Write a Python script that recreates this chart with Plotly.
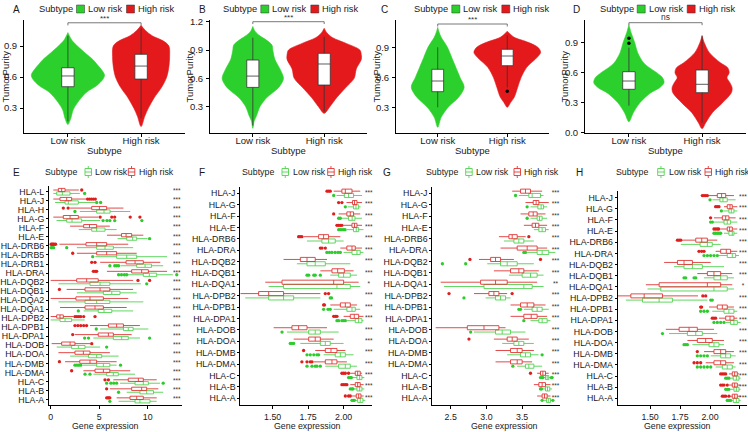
import plotly.graph_objects as go

W, H = 748, 432
FONT = "Liberation Sans, Arial, sans-serif"
GREEN_FILL = "#2CD02C"
RED_FILL = "#E3191C"
RED_LINE = "#E03535"
GREEN_LINE = "#50D250"
RED_PT = "#E01E1E"
GREEN_PT = "#2DCC2D"

# ---------------- top row (violins) ----------------
groups = ["Low risk", "High risk"]
violin_panels = ["A", "B", "C", "D"]
sig_top = ["***", "***", "***", "ns"]

# density profiles (value levels and half widths in category units)
A_low_y = [0.14, 0.2, 0.28, 0.35, 0.45, 0.52, 0.58, 0.62, 0.67, 0.72, 0.77, 0.83, 0.9, 0.95, 1.0, 1.03]
A_low_w = [0.0, 0.04, 0.07, 0.13, 0.25, 0.4, 0.48, 0.5, 0.46, 0.4, 0.34, 0.24, 0.13, 0.06, 0.02, 0.0]
A_high_y = [0.12, 0.22, 0.3, 0.4, 0.5, 0.6, 0.7, 0.8, 0.9, 0.95, 1.0, 1.05, 1.1]
A_high_w = [0.0, 0.05, 0.1, 0.18, 0.28, 0.35, 0.38, 0.39, 0.38, 0.3, 0.15, 0.06, 0.0]
B_low_y = [0.07, 0.15, 0.2, 0.3, 0.4, 0.46, 0.52, 0.6, 0.7, 0.8, 0.9, 0.95, 1.0, 1.05, 1.1, 1.15]
B_low_w = [0.0, 0.02, 0.05, 0.1, 0.2, 0.3, 0.38, 0.43, 0.38, 0.31, 0.28, 0.27, 0.2, 0.1, 0.03, 0.0]
B_high_y = [0.23, 0.3, 0.4, 0.5, 0.6, 0.7, 0.8, 0.85, 0.9, 0.97, 1.03, 1.08, 1.13]
B_high_w = [0.0, 0.08, 0.18, 0.3, 0.42, 0.45, 0.52, 0.52, 0.5, 0.31, 0.12, 0.04, 0.0]
C_low_y = [0.1, 0.2, 0.3, 0.4, 0.5, 0.6, 0.7, 0.8, 0.9, 1.0, 1.06, 1.1]
C_low_w = [0.0, 0.05, 0.15, 0.3, 0.38, 0.32, 0.26, 0.2, 0.14, 0.05, 0.015, 0.0]
C_high_y = [0.3, 0.35, 0.4, 0.5, 0.6, 0.7, 0.8, 0.85, 0.9, 0.95, 1.0, 1.06]
C_high_w = [0.0, 0.05, 0.1, 0.15, 0.2, 0.28, 0.43, 0.48, 0.44, 0.3, 0.1, 0.0]
D_low_y = [0.11, 0.2, 0.3, 0.4, 0.45, 0.5, 0.55, 0.6, 0.65, 0.7, 0.8, 0.9, 1.0, 1.08]
D_low_w = [0.0, 0.06, 0.15, 0.3, 0.42, 0.48, 0.46, 0.38, 0.28, 0.2, 0.12, 0.08, 0.03, 0.0]
D_high_y = [0.04, 0.1, 0.2, 0.3, 0.4, 0.45, 0.5, 0.55, 0.6, 0.65, 0.7, 0.8, 0.9, 0.97]
D_high_w = [0.0, 0.05, 0.14, 0.28, 0.4, 0.41, 0.38, 0.34, 0.37, 0.35, 0.25, 0.1, 0.03, 0.0]

# box stats [lower whisker, q1, median, q3, upper whisker]
A_low_box = [0.17, 0.506, 0.61, 0.69, 1.0]
A_high_box = [0.2, 0.58, 0.706, 0.82, 1.07]
B_low_box = [0.1, 0.504, 0.624, 0.794, 1.03]
B_high_box = [0.25, 0.529, 0.752, 0.865, 1.04]
C_low_box = [0.3, 0.456, 0.563, 0.68, 0.9]
C_high_box = [0.5, 0.716, 0.813, 0.88, 1.02]
D_low_box = [0.27, 0.434, 0.517, 0.61, 0.85]
D_high_box = [0.1, 0.4, 0.484, 0.627, 0.97]
A_low_out, A_high_out = [], []
B_low_out, B_high_out = [], []
C_low_out, C_high_out = [], [0.46]
D_low_out, D_high_out = [0.894, 0.944], []

# ---------------- bottom row (HLA boxplots) ----------------
E_genes = ["HLA-L", "HLA-J", "HLA-H", "HLA-G", "HLA-F", "HLA-E", "HLA-DRB6", "HLA-DRB5", "HLA-DRB1",
           "HLA-DRA", "HLA-DQB2", "HLA-DQB1", "HLA-DQA2", "HLA-DQA1", "HLA-DPB2", "HLA-DPB1", "HLA-DPA1",
           "HLA-DOB", "HLA-DOA", "HLA-DMB", "HLA-DMA", "HLA-C", "HLA-B", "HLA-A"]
E_high = [[0.27, 0.79, 1.13, 1.48, 2.9], [0.27, 0.96, 1.65, 2.16, 3.7], [2.0, 4.23, 5.02, 5.77, 7.5],
          [0.27, 1.3, 2.0, 2.85, 4.9], [2.0, 3.4, 4.0, 4.74, 6.1], [5.8, 7.3, 7.77, 8.35, 9.55],
          [0.9, 3.64, 4.74, 5.77, 8.0], [2.7, 4.74, 5.77, 6.8, 8.87], [5.1, 7.77, 8.7, 9.55, 11.3],
          [5.8, 8.35, 9.38, 10.07, 12.0], [0.0, 2.68, 3.71, 4.9, 8.5], [1.65, 3.54, 5.09, 6.1, 8.5],
          [0.0, 2.6, 4.05, 5.43, 8.0], [0.96, 3.54, 4.57, 5.43, 7.84], [0.0, 0.62, 0.96, 1.3, 2.3],
          [4.05, 5.95, 6.8, 7.5, 9.2], [2.5, 4.9, 5.95, 6.46, 8.35], [0.1, 1.13, 2.0, 2.5, 4.05],
          [0.8, 2.5, 3.37, 4.05, 6.1], [1.48, 3.0, 4.05, 4.74, 6.8], [3.37, 4.57, 5.43, 6.1, 8.2],
          [6.46, 8.0, 9.04, 9.55, 10.93], [6.1, 8.35, 9.38, 9.9, 11.1], [6.8, 8.18, 8.87, 9.55, 10.93]]
E_low = [[0.27, 0.62, 1.2, 1.99, 3.0], [0.45, 1.48, 1.82, 2.85, 4.57], [3.0, 4.74, 5.5, 6.12, 8.2],
         [0.6, 1.65, 2.2, 3.2, 5.1], [2.9, 4.23, 4.74, 5.6, 6.8], [6.9, 7.84, 8.45, 8.87, 10.0],
         [2.7, 4.74, 5.6, 6.46, 8.5], [4.6, 6.8, 7.84, 8.87, 12.0], [7.2, 8.87, 9.73, 10.4, 11.6],
         [7.9, 9.55, 10.17, 10.93, 12.6], [0.8, 4.05, 5.09, 6.1, 9.3], [2.7, 5.43, 6.3, 7.15, 8.87],
         [0.8, 3.54, 4.74, 6.1, 9.55], [3.4, 4.9, 5.5, 6.3, 8.5], [0.0, 0.96, 1.48, 2.16, 3.5],
         [5.1, 7.5, 8.0, 8.5, 10.07], [4.4, 6.46, 7.32, 8.0, 9.2], [0.62, 2.16, 2.85, 3.54, 5.1],
         [2.0, 3.9, 4.74, 5.26, 7.0], [3.3, 4.74, 5.43, 6.1, 6.8], [4.4, 5.77, 6.46, 6.97, 8.7],
         [7.15, 8.7, 9.55, 10.07, 11.27], [7.84, 9.2, 9.9, 10.6, 11.6], [7.0, 8.7, 9.2, 10.24, 10.93]]
E_high_out = [[3.2], [3.8, 4.0, 4.2, 4.4, 4.6], [1.3, 1.8], [5.1, 6.3, 6.6, 8.2, 9.2], [], [],
              [0.05, 0.15, 0.25, 0.35, 0.5], [2.27], [4.23, 4.57], [4.4, 4.6, 4.74], [9.0, 10.2], [0.9],
              [], [], [2.5, 2.7, 2.9, 3.1, 3.4, 4.57], [2.5, 2.8, 3.1, 3.4, 3.7], [2.27], [4.23],
              [], [0.9], [2.16], [5.6, 5.95], [5.77], [5.77, 5.9, 6.0, 6.1]]
E_low_out = [[3.5], [4.74, 5.15], [2.5], [5.4, 5.8, 6.1, 6.6, 9.4], [], [10.2],
             [0.05, 0.15, 0.3, 1.65], [4.33], [6.1, 6.6, 6.8, 7.0], [7.0, 7.3, 7.6, 7.84, 13.0], [9.9], [],
             [], [2.85], [], [4.7], [3.5, 3.9, 10.2], [5.77],
             [], [2.5, 2.7, 2.9, 3.1, 7.2], [3.54, 4.05], [5.77, 6.2, 6.5, 6.8, 11.6], [7.0], [6.1]]
E_sig = ["***"] * 24

FGH_genes = ["HLA-J", "HLA-G", "HLA-F", "HLA-E", "HLA-DRB6", "HLA-DRA", "HLA-DQB2", "HLA-DQB1", "HLA-DQA1",
             "HLA-DPB2", "HLA-DPB1", "HLA-DPA1", "HLA-DOB", "HLA-DOA", "HLA-DMB", "HLA-DMA", "HLA-C", "HLA-B", "HLA-A"]

F_high = [[1.93, 1.988, 2.012, 2.059, 2.117], [2.02, 2.063, 2.077, 2.094, 2.13], [1.965, 2.023, 2.047, 2.07, 2.117],
          [2.0, 2.059, 2.077, 2.094, 2.13], [1.718, 1.824, 1.859, 1.894, 1.977], [1.977, 2.023, 2.059, 2.082, 2.13],
          [1.577, 1.695, 1.742, 1.8, 1.883], [1.836, 1.918, 1.958, 2.005, 2.07], [1.448, 1.566, 1.93, 2.0, 2.106],
          [1.272, 1.401, 1.472, 1.577, 1.836], [1.906, 1.977, 2.012, 2.047, 2.094], [2.0, 2.047, 2.075, 2.106, 2.14],
          [1.507, 1.636, 1.683, 1.742, 1.883], [1.648, 1.754, 1.8, 1.836, 1.93], [1.8, 1.871, 1.911, 1.953, 2.012],
          [1.789, 1.871, 1.918, 1.953, 2.023], [2.047, 2.082, 2.099, 2.117, 2.129], [2.047, 2.082, 2.099, 2.117, 2.141],
          [2.059, 2.089, 2.106, 2.122, 2.141]]
F_low = [[1.95, 2.005, 2.035, 2.07, 2.13], [2.03, 2.07, 2.087, 2.106, 2.12], [1.99, 2.035, 2.06, 2.08, 2.13],
         [2.023, 2.07, 2.089, 2.106, 2.14], [1.742, 1.847, 1.894, 1.941, 2.0], [2.0, 2.059, 2.094, 2.117, 2.14],
         [1.671, 1.742, 1.8, 1.871, 2.047], [1.906, 1.965, 2.0, 2.047, 2.094], [1.472, 1.577, 1.953, 2.047, 2.117],
         [1.307, 1.472, 1.577, 1.648, 1.836], [1.93, 2.023, 2.059, 2.082, 2.117], [2.023, 2.082, 2.106, 2.129, 2.14],
         [1.601, 1.754, 1.8, 1.836, 1.965], [1.695, 1.836, 1.871, 1.906, 2.0], [1.859, 1.941, 1.977, 2.012, 2.07],
         [1.871, 1.965, 2.012, 2.047, 2.094], [2.059, 2.094, 2.113, 2.129, 2.146], [2.07, 2.094, 2.113, 2.129, 2.146],
         [2.082, 2.099, 2.117, 2.136, 2.153]]
F_high_out = [[1.883, 1.895, 1.906], [1.965, 1.988], [1.93], [1.953, 1.965, 1.977, 1.988], [1.683, 1.694, 1.706],
              [1.836, 1.848, 1.871], [], [], [], [1.871, 1.894], [1.859, 1.865], [1.93, 1.942, 1.953], [], [],
              [1.718], [1.706, 1.742, 1.765, 1.777], [1.988, 2.0, 2.012, 2.035], [1.988, 2.0, 2.012, 2.023],
              [2.012, 2.035, 2.047]]
F_low_out = [[1.93], [2.012], [1.965, 1.977], [1.965, 1.977, 1.988, 2.0, 2.01], [],
             [1.882, 1.9, 1.918, 1.94, 1.96, 1.977], [], [1.742, 1.754, 1.79, 1.8, 1.836], [], [1.906, 1.915],
             [1.859, 1.89, 1.906], [1.953, 1.965, 1.988, 2.0, 2.012], [1.566], [1.624, 1.636, 1.648],
             [1.742, 1.765, 1.79, 1.812, 1.824], [1.742, 1.777, 1.8, 1.812, 1.836], [2.035, 2.047, 2.055],
             [2.047, 2.059, 2.065], [2.059, 2.07, 2.076]]
F_sig = ["***"] * 8 + ["*"] + ["***"] * 10

G_high = [[3.361, 3.478, 3.547, 3.617, 3.78], [3.547, 3.655, 3.696, 3.734, 3.873], [3.478, 3.594, 3.655, 3.71, 3.827],
          [3.524, 3.64, 3.687, 3.734, 3.85], [3.175, 3.315, 3.361, 3.431, 3.55], [3.198, 3.431, 3.571, 3.71, 3.85],
          [2.896, 3.059, 3.128, 3.198, 3.385], [3.105, 3.338, 3.454, 3.524, 3.734], [2.36, 2.919, 3.128, 3.291, 3.71],
          [2.826, 3.035, 3.105, 3.175, 3.29], [3.338, 3.478, 3.571, 3.664, 3.827], [3.338, 3.524, 3.627, 3.71, 3.85],
          [2.29, 2.733, 2.966, 3.175, 3.268], [3.105, 3.291, 3.361, 3.431, 3.594], [3.128, 3.338, 3.431, 3.5, 3.664],
          [3.128, 3.338, 3.431, 3.5, 3.64], [3.71, 3.757, 3.79, 3.827, 3.873], [3.664, 3.734, 3.78, 3.827, 3.897],
          [3.71, 3.78, 3.813, 3.85, 3.897]]
G_low = [[3.454, 3.594, 3.64, 3.757, 3.8], [3.617, 3.72, 3.766, 3.8, 3.85], [3.617, 3.71, 3.743, 3.78, 3.85],
         [3.664, 3.734, 3.78, 3.827, 3.873], [3.245, 3.385, 3.454, 3.524, 3.664], [3.571, 3.71, 3.78, 3.873, 3.966],
         [3.012, 3.198, 3.291, 3.431, 3.664], [3.315, 3.5, 3.617, 3.71, 3.8], [2.407, 2.966, 3.524, 3.641, 3.8],
         [2.989, 3.128, 3.198, 3.268, 3.338], [3.524, 3.64, 3.71, 3.78, 3.873], [3.617, 3.734, 3.78, 3.85, 3.897],
         [2.826, 3.128, 3.221, 3.338, 3.547], [3.221, 3.385, 3.454, 3.524, 3.664], [3.291, 3.478, 3.547, 3.617, 3.73],
         [3.43, 3.547, 3.594, 3.664, 3.78], [3.8, 3.827, 3.85, 3.873, 3.897], [3.78, 3.827, 3.855, 3.887, 3.92],
         [3.8, 3.841, 3.866, 3.897, 3.92]]
G_high_out = [[], [], [], [], [3.594], [], [2.77, 3.757], [], [], [2.477, 3.36], [], [], [], [2.756], [], [],
              [3.617], [], []]
G_low_out = [[3.408], [3.57], [3.57], [], [], [3.524, 3.547], [2.384, 2.71], [], [], [2.686], [3.454, 3.478],
             [3.524], [2.78], [], [3.78], [3.37], [3.757, 3.78, 3.79, 3.91, 3.92], [3.757, 3.77], [3.78, 3.93]]
G_sig = ["***"] * 8 + ["**"] + ["***"] * 10

H_high = [[1.99, 2.061, 2.097, 2.131, 2.2], [2.117, 2.144, 2.167, 2.186, 2.228], [2.033, 2.103, 2.131, 2.158, 2.214],
          [2.085, 2.144, 2.164, 2.186, 2.228], [1.769, 1.881, 1.931, 1.978, 2.061], [2.047, 2.089, 2.136, 2.172, 2.228],
          [1.617, 1.728, 1.783, 1.853, 2.006], [1.894, 1.978, 2.033, 2.089, 2.186], [1.464, 1.575, 1.978, 2.089, 2.186],
          [1.214, 1.339, 1.45, 1.603, 1.9], [1.992, 2.061, 2.103, 2.144, 2.2], [2.075, 2.131, 2.167, 2.2, 2.228],
          [1.631, 1.742, 1.825, 1.894, 2.033], [1.811, 1.894, 1.964, 2.019, 2.117], [1.95, 2.033, 2.089, 2.131, 2.2],
          [1.964, 2.033, 2.089, 2.131, 2.2], [2.158, 2.186, 2.206, 2.228, 2.242], [2.158, 2.186, 2.206, 2.228, 2.25],
          [2.17, 2.186, 2.206, 2.228, 2.256]]
H_low = [[2.02, 2.083, 2.108, 2.144, 2.214], [2.11, 2.158, 2.178, 2.2, 2.228], [2.033, 2.117, 2.144, 2.172, 2.228],
         [2.117, 2.158, 2.186, 2.2, 2.228], [1.756, 1.917, 1.978, 2.019, 2.089], [2.075, 2.144, 2.186, 2.214, 2.242],
         [1.7, 1.783, 1.853, 1.936, 2.117], [1.95, 2.033, 2.089, 2.144, 2.2], [1.478, 1.589, 2.033, 2.144, 2.2],
         [1.297, 1.436, 1.575, 1.686, 1.978], [2.019, 2.117, 2.158, 2.2, 2.228], [2.133, 2.172, 2.2, 2.228, 2.256],
         [1.658, 1.811, 1.881, 1.936, 2.061], [1.853, 1.992, 2.033, 2.075, 2.117], [2.006, 2.089, 2.131, 2.172, 2.214],
         [2.047, 2.103, 2.144, 2.186, 2.214], [2.172, 2.194, 2.22, 2.242, 2.256], [2.172, 2.2, 2.22, 2.242, 2.256],
         [2.186, 2.194, 2.22, 2.242, 2.256]]
H_high_out = [[1.936, 1.95, 1.964, 1.978], [2.047, 2.061, 2.075], [2.005], [2.033, 2.047, 2.061, 2.072],
              [1.728, 1.742, 1.756], [1.908, 1.93, 1.95], [], [], [], [1.94, 1.964], [1.922, 1.93],
              [2.019, 2.033, 2.047], [], [], [1.894], [1.867, 1.894, 1.922], [2.089, 2.103, 2.117, 2.131],
              [2.089, 2.103, 2.117, 2.144], [2.103, 2.117, 2.131, 2.158]]
H_low_out = [[2.0], [2.095], [2.005, 2.02], [2.033, 2.047, 2.061, 2.075, 2.089], [],
             [1.95, 1.978, 2.005, 2.033, 2.061], [], [1.783, 1.797, 1.867, 1.881], [], [2.006, 2.019],
             [1.922, 1.95, 1.978], [2.033, 2.061, 2.089, 2.117], [1.603], [1.783, 1.797, 1.811],
             [1.894, 1.922, 1.95, 1.978], [1.894, 1.922, 1.95, 1.978, 2.006], [2.131, 2.144, 2.158],
             [2.131, 2.144, 2.158], [2.144, 2.158, 2.172]]
H_sig = ["***"] * 8 + ["*"] + ["***"] * 10

# ---------------- layout geometry (pixels) ----------------
top_px = [(24, 185), (210, 367), (396, 549), (585, 746)]
top_y = (20, 133)
top_ranges = [[0.058, 1.152], [0.021, 1.218], [0.043, 1.173], [-0.003, 1.127]]
sig_level = [1.125, 1.2, 1.133, 1.1]
ytitle_x = [5, 189, 376, 564]
letter_top_x = [16.5, 203, 385, 576]
leg_top_x = [37, 221.3, 412.3, 597.7]

bot_px = [(49, 182), (240.3, 372), (432.3, 560), (617.7, 747)]
bot_y = [(186.3, 405), (186.5, 405), (186.5, 405), (191, 405)]
bot_ranges = [[-0.175, 13.54], [1.272, 2.2], [2.243, 4.03], [1.229, 2.309]]
bot_ticks = [([0, 5, 10], ["0", "5", "10"]), ([1.5, 1.75, 2.0], ["1.50", "1.75", "2.00"]),
             ([2.5, 3.0, 3.5], ["2.5", "3.0", "3.5"]), ([1.5, 1.75, 2.0, 2.25], ["1.50", "1.75", "2.00", "2.25"])]
sig_x = [13.0, 2.177, 3.966, 2.275]
xtitle_bot_x = [105, 307.5, 504, 677]
letter_bot_x = [16.5, 202, 386.5, 579]
leg_bot = [(43.3, 85, 93.3, 128.3, 136.7), (240.3, 282, 291, 327.7, 336.3),
           (424, 465.7, 474, 514, 522.3), (614.3, 657.7, 667, 705, 712.7)]


def fx(p):
    return p / W


def fy(p):
    return 1 - p / H


fig = go.Figure()
layout = dict(width=W, height=H, margin=dict(l=0, r=0, t=0, b=0, autoexpand=False), paper_bgcolor="white",
              plot_bgcolor="white", showlegend=False,
              font=dict(family=FONT, size=9.3, color="#1a1a1a"))
annotations = []
shapes = []


def ann(x, y, text, size=9.3, xanchor="left", angle=0, color="#1a1a1a"):
    annotations.append(dict(x=fx(x), y=fy(y), xref="paper", yref="paper", text=text, showarrow=False,
                            xanchor=xanchor, yanchor="middle", textangle=angle,
                            font=dict(size=size, color=color, family=FONT)))


def ax_common():
    return dict(showline=True, linecolor="black", linewidth=1, ticks="outside", ticklen=3,
                tickcolor="black", showgrid=False, zeroline=False, fixedrange=True, automargin=False)


top_violins = [
    [(A_low_y, A_low_w), (A_high_y, A_high_w)],
    [(B_low_y, B_low_w), (B_high_y, B_high_w)],
    [(C_low_y, C_low_w), (C_high_y, C_high_w)],
    [(D_low_y, D_low_w), (D_high_y, D_high_w)],
]
top_boxes = [[A_low_box, A_high_box], [B_low_box, B_high_box], [C_low_box, C_high_box], [D_low_box, D_high_box]]
top_outs = [[A_low_out, A_high_out], [B_low_out, B_high_out], [C_low_out, C_high_out], [D_low_out, D_high_out]]
fills = [GREEN_FILL, RED_FILL]

for k in range(4):
    idx = k + 1
    xn = "xaxis" if idx == 1 else f"xaxis{idx}"
    yn = "yaxis" if idx == 1 else f"yaxis{idx}"
    xr = "x" if idx == 1 else f"x{idx}"
    yr = "y" if idx == 1 else f"y{idx}"
    # overlay axes so the boxes draw above the violin areas
    oi = idx + 8
    oxr, oyr = f"x{oi}", f"y{oi}"
    a, b = top_px[k]
    xa = ax_common()
    xa.update(domain=[fx(a), fx(b)], range=[0.4, 2.6], tickvals=[1, 2], ticktext=groups,
              anchor=yr, tickfont=dict(size=9.5), ticklabelstandoff=-4)
    ya = ax_common()
    ya.update(domain=[fy(top_y[1]), fy(top_y[0])], range=top_ranges[k], tick0=0, dtick=0.3,
              tickformat=".1f", anchor=xr, tickfont=dict(size=9.5), ticklabelstandoff=1)
    layout[xn] = xa
    layout[yn] = ya
    layout[f"xaxis{oi}"] = dict(domain=[fx(a), fx(b)], range=[0.4, 2.6], overlaying=xr, anchor=oyr,
                                visible=False, fixedrange=True)
    layout[f"yaxis{oi}"] = dict(domain=[fy(top_y[1]), fy(top_y[0])], range=top_ranges[k], overlaying=yr,
                                anchor=oxr, visible=False, fixedrange=True)
    for g in range(2):
        c = g + 1
        ys, ws = top_violins[k][g]
        xs = [c + w for w in ws] + [c - w for w in reversed(ws)]
        yy = list(ys) + list(reversed(ys))
        fig.add_trace(go.Scatter(x=xs, y=yy, fill="toself", fillcolor=fills[g], mode="lines",
                                 line=dict(color=fills[g], width=0.6, shape="spline", smoothing=0.9),
                                 xaxis=xr, yaxis=yr, hoverinfo="skip"))
        st = top_boxes[k][g]
        fig.add_trace(go.Box(x=[c], lowerfence=[st[0]], q1=[st[1]], median=[st[2]], q3=[st[3]],
                             upperfence=[st[4]], width=0.17, whiskerwidth=0, boxpoints=False,
                             fillcolor="white", line=dict(color="#333333", width=0.8),
                             xaxis=oxr, yaxis=oyr, hoverinfo="skip"))
        if top_outs[k][g]:
            fig.add_trace(go.Scatter(x=[c] * len(top_outs[k][g]), y=top_outs[k][g], mode="markers",
                                     marker=dict(size=3.5, color="black"), xaxis=oxr, yaxis=oyr))
    lv = sig_level[k]
    fig.add_trace(go.Scatter(x=[1, 1, 2, 2], y=[lv - 0.025, lv, lv, lv - 0.025], mode="lines",
                             line=dict(color="#555555", width=0.8), xaxis=xr, yaxis=yr, hoverinfo="skip",
                             cliponaxis=False))
    annotations.append(dict(x=1.5, y=lv, xref=xr, yref=yr, text=sig_top[k], showarrow=False,
                            yanchor="bottom", yshift=-2 if sig_top[k] == "***" else -1,
                            font=dict(size=8 if sig_top[k] == "***" else 8.5, color="#333333", family=FONT)))
    # titles, letters, legend
    ann(ytitle_x[k], (top_y[0] + top_y[1]) / 2, "TumorPurity", size=9.5, xanchor="center", angle=-90)
    ann((a + b) / 2, 151, "Subtype", size=9.5, xanchor="center")
    ann(letter_top_x[k], 9, violin_panels[k], size=10, xanchor="center")
    L = leg_top_x[k]
    ann(L, 9, "Subtype", size=9.3)
    for off_sq, off_tx, col, lab in [(39.5, 49, GREEN_FILL, "Low risk"), (89.5, 99, RED_FILL, "High risk")]:
        shapes.append(dict(type="rect", xref="paper", yref="paper", x0=fx(L + off_sq), x1=fx(L + off_sq + 8),
                           y0=fy(13), y1=fy(5), fillcolor=col, line=dict(color="#333333", width=0.5)))
        ann(L + off_tx, 9, lab, size=9.3)

bot_sets = [
    (E_genes, E_high, E_low, E_high_out, E_low_out, E_sig, "E"),
    (FGH_genes, F_high, F_low, F_high_out, F_low_out, F_sig, "F"),
    (FGH_genes, G_high, G_low, G_high_out, G_low_out, G_sig, "G"),
    (FGH_genes, H_high, H_low, H_high_out, H_low_out, H_sig, "H"),
]

for k in range(4):
    idx = k + 5
    xn, yn = f"xaxis{idx}", f"yaxis{idx}"
    xr, yr = f"x{idx}", f"y{idx}"
    genes, hi, lo, hi_out, lo_out, sig, letter = bot_sets[k]
    n = len(genes)
    pos = [n - 1 - i for i in range(n)]
    a, b = bot_px[k]
    xa = ax_common()
    xa.update(domain=[fx(a), fx(b)], range=bot_ranges[k], tickvals=bot_ticks[k][0],
              ticktext=bot_ticks[k][1], anchor=yr, tickfont=dict(size=8.8), ticklabelstandoff=0)
    ya = ax_common()
    ya.update(domain=[fy(bot_y[k][1]), fy(bot_y[k][0])], range=[-0.6, n - 0.4], tickvals=pos,
              ticktext=genes, anchor=xr, tickfont=dict(size=8.8), ticklen=2, ticklabelstandoff=0)
    layout[xn] = xa
    layout[yn] = ya
    for stats, outs, off, lc, pc in [(lo, lo_out, -0.19, GREEN_LINE, GREEN_PT), (hi, hi_out, 0.19, RED_LINE, RED_PT)]:
        fig.add_trace(go.Box(orientation="h", y=[p + off for p in pos],
                             lowerfence=[s[0] for s in stats], q1=[s[1] for s in stats],
                             median=[s[2] for s in stats], q3=[s[3] for s in stats],
                             upperfence=[s[4] for s in stats], width=0.36, whiskerwidth=0,
                             boxpoints=False, fillcolor="rgba(255,255,255,0)",
                             line=dict(color=lc, width=0.9), xaxis=xr, yaxis=yr, hoverinfo="skip"))
        ox, oy = [], []
        for i, o in enumerate(outs):
            ox += o
            oy += [pos[i] + off] * len(o)
        fig.add_trace(go.Scatter(x=ox, y=oy, mode="markers", marker=dict(size=3.3, color=pc),
                                 xaxis=xr, yaxis=yr, hoverinfo="skip", cliponaxis=False))
    fig.add_trace(go.Scatter(x=[sig_x[k]] * n, y=pos, mode="text", text=sig,
                             textfont=dict(size=6.5, color="#333333", family=FONT),
                             xaxis=xr, yaxis=yr, hoverinfo="skip", cliponaxis=False))
    ann(xtitle_bot_x[k], 426, "Gene expression", size=8.8, xanchor="center")
    ann(letter_bot_x[k], 172, letter, size=10, xanchor="center")
    Ls, gi, gt, ri, rt = leg_bot[k]
    ann(Ls, 172, "Subtype", size=8.8)
    for ix, tx, col, lab in [(gi, gt, GREEN_LINE, "Low risk"), (ri, rt, RED_LINE, "High risk")]:
        shapes.append(dict(type="rect", xref="paper", yref="paper", x0=fx(ix), x1=fx(ix + 6.5),
                           y0=fy(175.5), y1=fy(168.5), line=dict(color=col, width=0.9)))
        shapes.append(dict(type="line", xref="paper", yref="paper", x0=fx(ix), x1=fx(ix + 6.5),
                           y0=fy(172), y1=fy(172), line=dict(color=col, width=0.9)))
        for y0, y1 in [(166, 168.5), (175.5, 178)]:
            shapes.append(dict(type="line", xref="paper", yref="paper", x0=fx(ix + 3.25), x1=fx(ix + 3.25),
                               y0=fy(y0), y1=fy(y1), line=dict(color=col, width=0.9)))
        ann(tx, 172, lab, size=8.8)

layout["annotations"] = annotations
layout["shapes"] = shapes
fig.update_layout(**layout)
fig.write_html("out.html", config={"displayModeBar": False},
               post_script="document.body.style.margin='0';document.body.style.overflow='hidden';")
